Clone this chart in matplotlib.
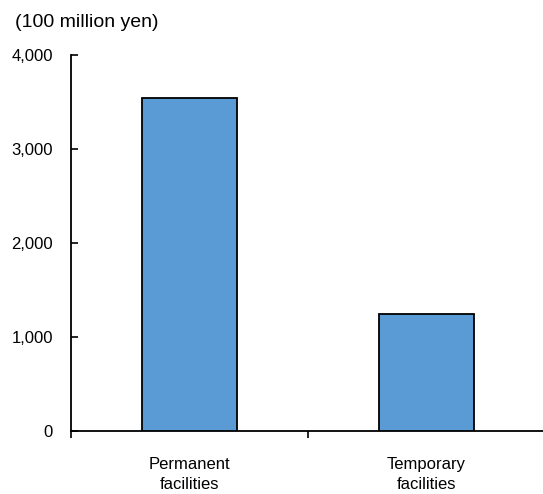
import matplotlib
matplotlib.use("Agg")
import matplotlib.pyplot as plt
from matplotlib.ticker import FuncFormatter

plt.rcParams['font.family'] = ['Liberation Sans', 'DejaVu Sans']

categories = ["Permanent\nfacilities", "Temporary\nfacilities"]
values = [3544, 1237]
yticks = [0, 1000, 2000, 3000, 4000]
unit_label = "(100 million yen)"

W, H = 543, 494
fig = plt.figure(figsize=(W / 100, H / 100), dpi=100)
ax = fig.add_axes([71 / W, (H - 430.5) / H, (545 - 71) / W, (430.5 - 55) / H])

x = list(range(len(categories)))
ax.bar(x, values, width=0.4, color="#5B9BD5", edgecolor="black", linewidth=1.3, zorder=3)

ax.set_xlim(-0.5, len(categories) - 0.5)
ax.set_ylim(0, 4000)
ax.set_yticks(yticks)
ax.yaxis.set_major_formatter(FuncFormatter(lambda v, p: f"{int(v):,}"))
ax.tick_params(axis="y", direction="in", length=5, width=1.2, pad=13, labelsize=12)

ax.set_xticks(x)
ax.set_xticklabels(categories, fontsize=12, linespacing=1.4)
ax.set_xticks([i - 0.5 for i in range(len(categories) + 1)], minor=True)
ax.tick_params(axis="x", which="major", length=0, pad=19)
ax.tick_params(axis="x", which="minor", direction="out", length=5, width=1.2)

for side in ("top", "right"):
    ax.spines[side].set_visible(False)
for side in ("left", "bottom"):
    ax.spines[side].set_linewidth(1.3)

fig.text(15 / W, 1 - 27 / H, unit_label, fontsize=14, ha="left", va="baseline")

fig.savefig("out.png", dpi=100)
